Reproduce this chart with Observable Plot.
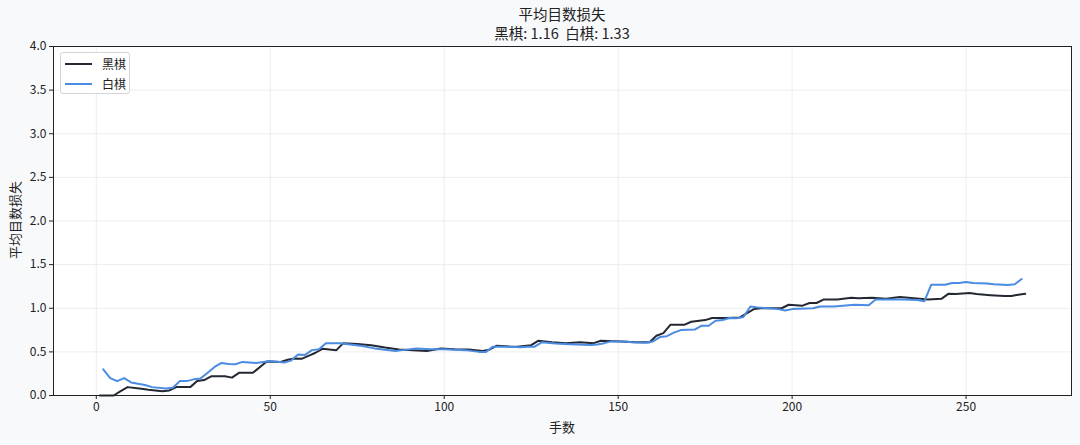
<!DOCTYPE html>
<html>
<head>
<meta charset="utf-8">
<script src="https://cdn.jsdelivr.net/npm/d3@7"></script>
<script src="https://cdn.jsdelivr.net/npm/@observablehq/plot@0.6"></script>
<style>
  html, body { margin: 0; padding: 0; background: #f8f9fb; }
  body { font-family: "Noto Sans CJK SC", "Noto Sans", sans-serif; color: #222; }
  #wrap { position: relative; width: 1080px; height: 445px; }
  #title { position: absolute; left: 53px; width: 1018px; top: 4px; text-align: center; font-size: 14.5px; line-height: 19px; white-space: pre; }
  #chart { position: absolute; left: 0; top: 45px; }
  #xlabel { position: absolute; left: 53px; width: 1018px; top: 418px; text-align: center; font-size: 13px; line-height: 18px; }
  #ylabel { position: absolute; left: 15px; top: 220px; font-size: 13px; line-height: 16px; transform: translate(-50%, -50%) rotate(-90deg); white-space: nowrap; }
  #legend { position: absolute; left: 60px; top: 52px; width: 70px; height: 42px; background: rgba(255,255,255,0.9); border: 1px solid #d5d5d5; border-radius: 3px; box-sizing: border-box; }
  .row { position: absolute; left: 0; height: 16px; font-size: 12px; line-height: 16px; }
  .row .sw { position: absolute; left: 4px; top: 7px; width: 27px; height: 2px; }
  .row .lb { position: absolute; left: 41px; top: 0; white-space: nowrap; }
</style>
</head>
<body>
<div id="wrap">
  <div id="title"></div>
  <div id="chart"></div>
  <div id="xlabel"></div>
  <div id="ylabel"></div>
  <div id="legend"></div>
</div>
<script>
const titleText = "平均目数损失";
const subtitleText = "黑棋: 1.16  白棋: 1.33";
const xLabel = "手数";
const yLabel = "平均目数损失";
const seriesNames = ["黑棋", "白棋"];
const seriesColors = ["#232833", "#4a8be3"];

const blackMoves = [1,3,5,7,9,13,15,19,21,23,27,29,31,33,37,39,41,45,49,53,55,57,59,61,63,65,69,71,75,79,83,87,91,95,99,103,107,111,113,115,119,121,125,127,131,135,139,143,145,149,151,155,159,161,163,165,169,171,175,177,181,185,189,191,197,199,203,205,207,209,213,217,219,223,227,231,235,239,243,245,247,251,253,257,261,263,265,267];
const blackLoss = [0,0,0,0.05,0.096,0.077,0.065,0.05,0.058,0.096,0.096,0.165,0.177,0.22,0.22,0.205,0.26,0.26,0.39,0.385,0.41,0.425,0.42,0.455,0.49,0.535,0.52,0.60,0.59,0.577,0.55,0.527,0.52,0.51,0.538,0.53,0.527,0.51,0.525,0.57,0.56,0.56,0.577,0.627,0.61,0.60,0.61,0.60,0.627,0.623,0.62,0.61,0.61,0.685,0.715,0.81,0.81,0.845,0.864,0.888,0.888,0.895,0.99,1.0,1.0,1.04,1.03,1.06,1.06,1.10,1.10,1.12,1.116,1.12,1.11,1.128,1.116,1.10,1.11,1.167,1.163,1.174,1.163,1.15,1.14,1.14,1.155,1.165];

const whiteMoves = [2,4,6,8,10,14,16,20,22,24,26,28,30,32,34,36,38,40,42,46,48,50,54,56,58,60,62,64,66,70,76,80,86,88,92,96,100,106,110,112,114,118,122,124,126,128,132,136,142,144,146,148,152,154,158,160,162,164,166,168,172,174,176,178,180,182,184,186,188,190,196,198,200,206,208,212,218,222,224,228,232,236,238,240,244,246,248,250,252,256,258,262,264,266];
const whiteLoss = [0.30,0.20,0.165,0.20,0.15,0.12,0.096,0.08,0.088,0.165,0.165,0.185,0.196,0.26,0.327,0.373,0.36,0.358,0.385,0.373,0.385,0.396,0.377,0.40,0.47,0.465,0.52,0.53,0.60,0.60,0.57,0.54,0.51,0.52,0.54,0.53,0.53,0.52,0.50,0.50,0.56,0.56,0.553,0.56,0.56,0.61,0.596,0.588,0.58,0.585,0.60,0.62,0.62,0.61,0.604,0.62,0.67,0.68,0.72,0.75,0.756,0.80,0.80,0.857,0.864,0.888,0.884,0.90,1.02,1.01,0.99,0.975,0.99,1.0,1.02,1.02,1.04,1.035,1.10,1.10,1.10,1.095,1.08,1.27,1.27,1.29,1.29,1.30,1.29,1.283,1.275,1.267,1.275,1.335];

const xTicks = [0, 50, 100, 150, 200, 250];
const yTicks = [0, 0.5, 1, 1.5, 2, 2.5, 3, 3.5, 4];

const blackData = blackMoves.map((m, i) => ({move: m, loss: blackLoss[i]}));
const whiteData = whiteMoves.map((m, i) => ({move: m, loss: whiteLoss[i]}));

document.getElementById("title").textContent = titleText + "\n" + subtitleText;
document.getElementById("xlabel").textContent = xLabel;
document.getElementById("ylabel").textContent = yLabel;
document.getElementById("legend").innerHTML = seriesNames.map((n, i) =>
  `<div class="row" style="top:${3 + i * 20}px"><div class="sw" style="background:${seriesColors[i]}"></div><div class="lb">${n}</div></div>`
).join("");

const chart = Plot.plot({
  width: 1080,
  height: 400,
  marginLeft: 53,
  marginRight: 9,
  marginTop: 1,
  marginBottom: 50,
  style: { fontFamily: "Noto Sans CJK SC, Noto Sans, sans-serif", fontSize: "12px", color: "#222", background: "transparent", overflow: "visible" },
  x: { domain: [-12.3, 280.3] },
  y: { domain: [0, 4] },
  marks: [
    Plot.frame({ fill: "white", stroke: null }),
    Plot.gridX(xTicks, { stroke: "#e8e8e8", strokeOpacity: 1, strokeWidth: 0.8 }),
    Plot.gridY(yTicks, { stroke: "#e8e8e8", strokeOpacity: 1, strokeWidth: 0.8 }),
    Plot.line(blackData, { x: "move", y: "loss", stroke: seriesColors[0], strokeWidth: 2 }),
    Plot.line(whiteData, { x: "move", y: "loss", stroke: seriesColors[1], strokeWidth: 2 }),
    Plot.frame({ stroke: "#222", strokeWidth: 1 }),
    Plot.axisX(xTicks, { tickSize: 4, tickPadding: 3, label: null, fontSize: 12 }),
    Plot.axisY(yTicks, { tickSize: 4, tickPadding: 3, label: null, fontSize: 12, tickFormat: d3.format(".1f") })
  ]
});
document.getElementById("chart").appendChild(chart);
</script>
</body>
</html>
